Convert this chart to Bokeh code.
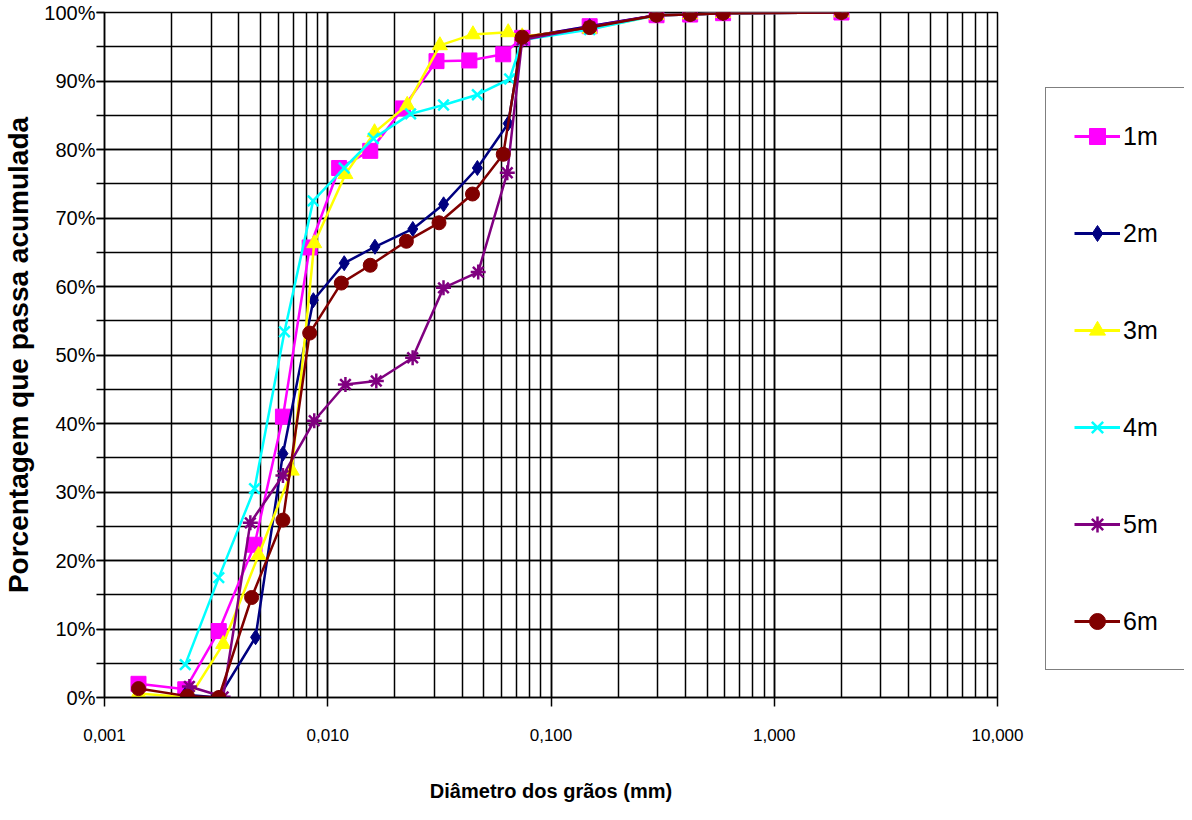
from bokeh.plotting import figure
from bokeh.layouts import row
from bokeh.models import (Legend, LegendItem, SingleIntervalTicker, LogTicker,
                          CustomJSTickFormatter, Range1d)
from bokeh.embed import file_html
from bokeh.resources import INLINE

# ---------------- data ----------------
x_1m = [0.00142, 0.0023, 0.00325, 0.0047, 0.0063, 0.0083, 0.01125, 0.0155, 0.0217, 0.0307, 0.0431, 0.0611, 0.0743, 0.149, 0.297, 0.42, 0.59, 2.0]
y_1m = [2.0, 1.2, 9.7, 22.3, 41.0, 65.7, 77.3, 79.8, 86.0, 92.9, 93.0, 93.9, 96.3, 98.0, 99.6, 99.7, 99.9, 100.0]

x_2m = [0.0023, 0.00325, 0.00475, 0.0063, 0.00862, 0.01185, 0.01627, 0.02404, 0.03303, 0.0468, 0.0643, 0.0743, 0.149, 0.297, 0.42, 0.59, 2.0]
y_2m = [0.4, 0.0, 8.8, 35.6, 58.0, 63.4, 65.8, 68.4, 72.0, 77.3, 83.8, 96.3, 98.0, 99.6, 99.7, 99.9, 100.0]

x_3m = [0.00142, 0.0024, 0.0034, 0.0049, 0.0069, 0.0087, 0.0120, 0.0162, 0.0227, 0.0318, 0.0447, 0.0643, 0.0743, 0.149, 0.297, 0.42, 0.59, 2.0]
y_3m = [0.6, 0.0, 7.8, 20.8, 33.1, 66.3, 76.4, 82.5, 86.5, 95.2, 96.8, 97.1, 96.5, 97.6, 99.6, 99.7, 99.9, 100.0]

x_4m = [0.0023, 0.00325, 0.0047, 0.0064, 0.0086, 0.01185, 0.0160, 0.0235, 0.0330, 0.0468, 0.0653, 0.0743, 0.149, 0.297, 0.42, 0.59, 2.0]
y_4m = [4.8, 17.5, 30.5, 53.4, 72.5, 77.3, 81.6, 85.2, 86.5, 88.0, 90.3, 96.0, 97.5, 99.6, 99.7, 99.9, 100.0]

x_5m = [0.0024, 0.0034, 0.0045, 0.0063, 0.0087, 0.0120, 0.0165, 0.0240, 0.0330, 0.0472, 0.0637, 0.0743, 0.149, 0.297, 0.42, 0.59, 2.0]
y_5m = [1.6, 0.1, 25.5, 32.4, 40.4, 45.7, 46.2, 49.6, 59.8, 62.1, 76.6, 96.0, 97.9, 99.6, 99.7, 99.9, 100.0]

x_6m = [0.00142, 0.00235, 0.00325, 0.00456, 0.0063, 0.0083, 0.0115, 0.0155, 0.0225, 0.0315, 0.0445, 0.0611, 0.0743, 0.149, 0.297, 0.42, 0.59, 2.0]
y_6m = [1.3, 0.2, 0.0, 14.6, 25.9, 53.2, 60.5, 63.1, 66.6, 69.3, 73.5, 79.3, 96.4, 97.8, 99.6, 99.7, 99.9, 100.0]

series_names = ["1m", "2m", "3m", "4m", "5m", "6m"]
x_tick_values = [0.001, 0.01, 0.1, 1, 10]
x_tick_labels = ["0,001", "0,010", "0,100", "1,000", "10,000"]
y_tick_values = [0, 10, 20, 30, 40, 50, 60, 70, 80, 90, 100]
y_tick_labels = ["0%", "10%", "20%", "30%", "40%", "50%", "60%", "70%", "80%", "90%", "100%"]
x_title = "Diâmetro dos grãos (mm)"
y_title = "Porcentagem que passa acumulada"

# ---------------- styles ----------------
styles = [
    dict(color="#FF00FF", marker="square", size=15),
    dict(color="#000080", marker="diamond", size=15),
    dict(color="#FFFF00", marker="triangle", size=15),
    dict(color="#00FFFF", marker="x", size=15),
    dict(color="#800080", marker="asterisk", size=15),
    dict(color="#800000", marker="circle", size=14),
]
xs = [x_1m, x_2m, x_3m, x_4m, x_5m, x_6m]
ys = [y_1m, y_2m, y_3m, y_4m, y_5m, y_6m]

FONT = "Liberation Sans"

p = figure(width=1037, height=804, x_axis_type="log",
           x_range=(0.001, 10), y_range=(0, 100),
           output_backend="svg", toolbar_location=None,
           min_border_left=99, min_border_right=40,
           min_border_top=12, min_border_bottom=101)
p.background_fill_color = "white"
p.border_fill_color = "white"
p.outline_line_color = "black"
p.outline_line_width = 1.5

# axes
p.xaxis.ticker = LogTicker(num_minor_ticks=10)
p.xaxis.formatter = CustomJSTickFormatter(
    args=dict(vals=x_tick_values, labs=x_tick_labels),
    code="""
    let best = 0, bd = 1e9;
    for (let i = 0; i < vals.length; i++) {
        const d = Math.abs(Math.log10(vals[i]) - Math.log10(tick));
        if (d < bd) { bd = d; best = i; }
    }
    return labs[best];
    """)
p.yaxis.ticker = SingleIntervalTicker(interval=10, num_minor_ticks=2)
p.yaxis.formatter = CustomJSTickFormatter(
    args=dict(vals=y_tick_values, labs=y_tick_labels),
    code="""
    let best = 0, bd = 1e9;
    for (let i = 0; i < vals.length; i++) {
        const d = Math.abs(vals[i] - tick);
        if (d < bd) { bd = d; best = i; }
    }
    return labs[best];
    """)

for ax in (p.xaxis[0], p.yaxis[0]):
    ax.axis_line_color = "black"
    ax.axis_line_width = 1.5
    ax.major_tick_line_color = "black"
    ax.minor_tick_line_color = "black"
    ax.major_tick_line_width = 1.5
    ax.minor_tick_line_width = 1.5
    ax.major_label_text_font = FONT
    ax.major_label_text_color = "black"
    ax.axis_label_text_font = FONT
    ax.axis_label_text_font_style = "bold"
    ax.axis_label_text_color = "black"

p.xaxis.major_label_text_font_size = "17px"
p.xaxis.major_tick_in = 0
p.xaxis.major_tick_out = 9
p.xaxis.minor_tick_in = 0
p.xaxis.minor_tick_out = 0
p.xaxis.major_label_standoff = 22
p.xaxis.axis_label = x_title
p.xaxis.axis_label_text_font_size = "20px"
p.xaxis.axis_label_standoff = 36

p.yaxis.major_label_text_font_size = "20px"
p.yaxis.major_tick_in = 0
p.yaxis.major_tick_out = 8
p.yaxis.minor_tick_in = 0
p.yaxis.minor_tick_out = 8
p.yaxis.major_label_standoff = 1
p.yaxis.axis_label = y_title
p.yaxis.axis_label_text_font_size = "28px"
p.yaxis.axis_label_standoff = 7

# grid
for g in (p.xgrid[0], p.ygrid[0]):
    g.grid_line_color = "black"
    g.grid_line_width = 1.5
    g.grid_line_alpha = 1.0
    g.minor_grid_line_color = "black"
    g.minor_grid_line_width = 1.5

# legend panel: a second figure whose view shows none of the data,
# holding the same series styles so the legend can sit right of the chart
q = figure(width=147, height=804, output_backend="svg", toolbar_location=None,
           x_range=Range1d(0, 1), y_range=Range1d(-1000, -999),
           min_border_left=0, min_border_right=0, min_border_top=0,
           min_border_bottom=0, x_axis_type=None, y_axis_type=None)
q.outline_line_color = None
q.grid.visible = False
q.background_fill_color = "white"
q.border_fill_color = "white"

items = []
for name, xv, yv, st in zip(series_names, xs, ys, styles):
    p.line(xv, yv, line_color=st["color"], line_width=2.5)
    if st["marker"] in ("x", "asterisk"):
        p.scatter(xv, yv, marker=st["marker"], size=st["size"],
                  line_color=st["color"], line_width=2.5)
        s2 = q.scatter(xv, yv, marker=st["marker"], size=st["size"],
                       line_color=st["color"], line_width=2.5)
    else:
        p.scatter(xv, yv, marker=st["marker"], size=st["size"],
                  fill_color=st["color"], line_color=st["color"])
        s2 = q.scatter(xv, yv, marker=st["marker"], size=st["size"],
                       fill_color=st["color"], line_color=st["color"])
    l2 = q.line(xv, yv, line_color=st["color"], line_width=3)
    items.append(LegendItem(label=name, renderers=[l2, s2]))

legend = Legend(items=items, location=(8, 27))
legend.border_line_color = "black"
legend.border_line_width = 1.5
legend.background_fill_color = "white"
legend.padding = 28
legend.spacing = 57
legend.glyph_width = 46
legend.glyph_height = 40
legend.label_height = 40
legend.label_width = 34
legend.label_standoff = 3
legend.label_text_font = FONT
legend.label_text_font_size = "25px"
legend.label_text_color = "black"
legend.margin = 0
q.add_layout(legend, "center")

layout = row(p, q, spacing=0)
open("out.html", "w").write(file_html(layout, INLINE))
